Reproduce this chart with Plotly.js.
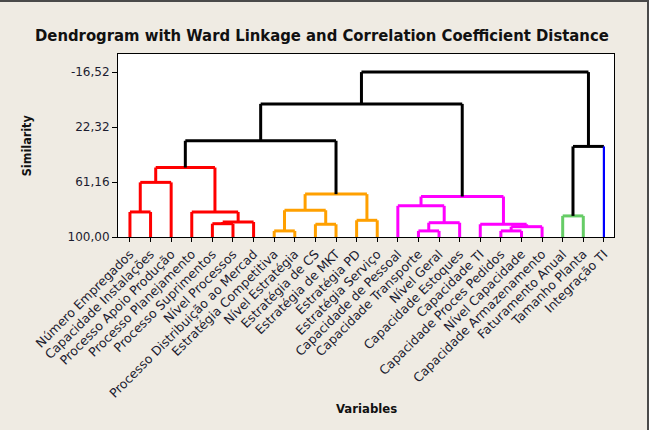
<!DOCTYPE html>
<html>
<head>
<meta charset="utf-8">
<script src="https://cdn.plot.ly/plotly-3.0.1.min.js"></script>
<style>
  html, body { margin: 0; padding: 0; background: #EFEBE3; }
  #wrap { position: relative; width: 649px; height: 430px; overflow: hidden; }
  #chart { position: absolute; left: 0; top: 0; width: 649px; height: 430px; }
  .edgeT { position: absolute; left: 0; top: 0; width: 649px; height: 2px; background: #4a4a4a; }
  .edgeR { position: absolute; right: 0; top: 0; width: 2px; height: 430px; background: #4a4a4a; }
</style>
</head>
<body>
<div id="wrap">
  <div id="chart"></div>
  <div class="edgeT"></div>
  <div class="edgeR"></div>
</div>
<script>
// ---- Data ----
const labels = [
  "Número Empregados", "Capacidade Instalações", "Processo Apoio Produção",
  "Processo Planejamento", "Processo Suprimentos", "Nível Processos",
  "Processo Distribuição ao Mercad", "Estratégia Competitiva", "Nível Estratégia",
  "Estratégia de CS", "Estratégia de MKT", "Estratégia PD", "Estratégia Serviço",
  "Capacidade de Pessoal", "Capacidade Transporte", "Nível Geral",
  "Capacidade Estoques", "Capacidade TI", "Capacidade Proces Pedidos",
  "Nível Capacidade", "Capacidade Armazenamento", "Faturamento Anual",
  "Tamanho Planta", "Integração TI"
];
// final cluster of each leaf (1 red, 2 orange, 3 magenta, 4 green, 5 blue)
const leafCluster = [1,1,1,1,1,1,1, 2,2,2,2,2,2, 3,3,3,3,3,3,3,3, 4,4, 5];
// merges: node ids 0..23 are leaves, new nodes numbered 24, 25, ...
const mergeA   = [0, 24, 4, 26, 3, 25, 7, 9, 30, 11, 32, 14, 35, 13, 18, 38, 17, 37, 21, 29, 43, 42, 44];
const mergeB   = [1, 2, 5, 6, 27, 28, 8, 10, 31, 12, 33, 15, 16, 36, 19, 20, 39, 40, 22, 34, 41, 23, 45];
const mergeSim = [82.3, 61.4, 90.6, 89.4, 82.3, 50.9, 95.7, 91.0, 81.1, 88.2, 69.7,
                  95.7, 89.9, 78.0, 95.7, 92.7, 91.0, 71.4, 85.1, 32.0, 5.95, 36.0, -16.52];
const yTickVals = [100, 61.16, 22.32, -16.52];
const yTickText = ["100,00", "61,16", "22,32", "-16,52"];

// ---- Styles ----
const palette = {0: "#000000", 1: "#FF0000", 2: "#FFA000", 3: "#FF00FF", 4: "#66CC66", 5: "#0000FF"};
const FONT = 'Tahoma, "DejaVu Sans", sans-serif';
const FONTC = 'Tahoma, "DejaVu Sans Condensed", "DejaVu Sans", sans-serif';

// ---- Build dendrogram geometry ----
const n = labels.length;
const nodeX = [], nodeH = [], nodeC = [];
for (let i = 0; i < n; i++) { nodeX.push(i + 1); nodeH.push(100); nodeC.push(leafCluster[i]); }
const segs = {}; // color -> {x:[], y:[]}
function addSeg(col, x0, y0, x1, y1) {
  if (!segs[col]) segs[col] = {x: [], y: []};
  segs[col].x.push(x0, x1, null);
  segs[col].y.push(y0, y1, null);
}
for (let k = 0; k < mergeA.length; k++) {
  const a = mergeA[k], b = mergeB[k], h = mergeSim[k];
  const c = (nodeC[a] === nodeC[b]) ? nodeC[a] : 0;
  const pc = palette[c];
  [a, b].forEach(ch => {
    const col = ch < n ? palette[leafCluster[ch]] : pc;
    addSeg(col, nodeX[ch], nodeH[ch], nodeX[ch], h);
  });
  addSeg(pc, nodeX[a], h, nodeX[b], h);
  nodeX.push((nodeX[a] + nodeX[b]) / 2);
  nodeH.push(h);
  nodeC.push(c);
}
const traces = Object.keys(segs).map(col => ({
  type: "scatter", mode: "lines", x: segs[col].x, y: segs[col].y,
  line: {color: col, width: col === "#0000FF" ? 2.2 : 3}, hoverinfo: "skip", showlegend: false
}));

const layout = {
  width: 649, height: 430,
  paper_bgcolor: "#EFEBE3", plot_bgcolor: "#FFFFFF",
  margin: {l: 118, r: 35, t: 54, b: 193},
  showlegend: false,
  title: {text: "<b>Dendrogram with Ward Linkage and Correlation Coefficient Distance</b>",
          font: {family: FONTC, size: 16.5, color: "#111"}, x: 0.496, xanchor: "center", y: 0.918, yanchor: "middle"},
  xaxis: {
    range: [0.42, 24.49], tickvals: labels.map((_, i) => i + 1), ticktext: labels,
    tickangle: -45, ticks: "outside", ticklen: 4, tickcolor: "#000", tickwidth: 1,
    tickfont: {family: FONT, size: 12.5, color: "#1c1c30"},
    showline: true, linecolor: "#000", linewidth: 1, mirror: true,
    showgrid: false, zeroline: false, fixedrange: true
  },
  yaxis: {
    range: [100, -29.3], tickvals: yTickVals, ticktext: yTickText,
    ticks: "outside", ticklen: 5, tickcolor: "#000", tickwidth: 1,
    tickfont: {family: FONT, size: 12, color: "#1c1c30"},
    showline: true, linecolor: "#000", linewidth: 1, mirror: true,
    showgrid: false, zeroline: false, fixedrange: true
  },
  annotations: [
    {text: "<b>Similarity</b>", xref: "paper", yref: "paper", x: -0.184, y: 0.5, xanchor: "center", yanchor: "middle",
     textangle: -90, showarrow: false, font: {family: FONTC, size: 12.5, color: "#111"}},
    {text: "<b>Variables</b>", xref: "paper", yref: "paper", x: 0.5, y: -0.935, xanchor: "center", yanchor: "middle",
     showarrow: false, font: {family: FONTC, size: 13, color: "#111"}}
  ]
};
Plotly.newPlot("chart", traces, layout, {staticPlot: true, displayModeBar: false});
</script>
</body>
</html>
